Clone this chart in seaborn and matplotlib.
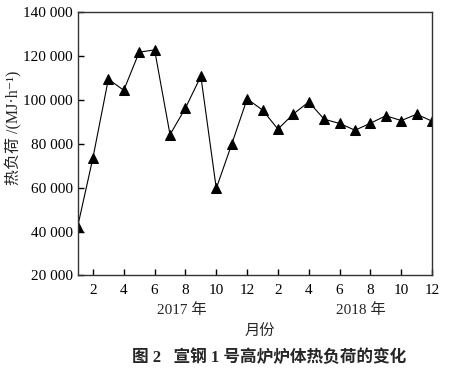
import numpy as np
import pandas as pd
import seaborn as sns
import matplotlib.pyplot as plt

# 2017.1 ~ 2018.12 炉体热负荷
months = list(range(1, 25))
heat_load = [42000, 73600, 109500, 104400, 121800, 122800, 84200, 96300, 110800,
             59700, 79800, 100500, 95400, 86700, 93600, 99100, 91200, 89300,
             86200, 89400, 92800, 90600, 93500, 90300]
tick_pos = list(range(2, 25, 2))
tick_labels = ['2', '4', '6', '8', '10', '12', '2', '4', '6', '8', '10', '12']
y_ticks = [20000, 40000, 60000, 80000, 100000, 120000, 140000]

df = pd.DataFrame({'month': months, 'load': heat_load})

sns.set_style('ticks')
plt.rcParams['font.family'] = ['Liberation Serif', 'Noto Sans CJK SC', 'DejaVu Sans']

fig = plt.figure(figsize=(4.52, 3.81), dpi=100)
ax = fig.add_axes([0.1715, 0.277, 0.7845, 0.691])
sns.lineplot(data=df, x='month', y='load', ax=ax, color='black', linewidth=0.8,
             marker='^', markersize=6.5, markeredgecolor='black', markerfacecolor='black')

ax.set_xlim(1, 24)
ax.set_ylim(20000, 140000)
ax.set_xticks(tick_pos)
ax.set_xticklabels(tick_labels)
ax.set_yticks(y_ticks)
ax.set_yticklabels(['{:,}'.format(v).replace(',', ' ') for v in y_ticks])
ax.tick_params(direction='in', length=4, width=1, labelsize=11, colors='black')
ax.tick_params(axis='x', pad=6)
for s in ax.spines.values():
    s.set_linewidth(1)
    s.set_color('#333333')

ax.set_xlabel('')
ax.set_ylabel('热负荷 /(MJ·h⁻¹)', fontsize=11.5)
ax.yaxis.set_label_coords(-0.155, 0.56)

fig.text(182 / 452, 1 - 310 / 381, '2017 年', ha='center', va='center', fontsize=11)
fig.text(361 / 452, 1 - 310 / 381, '2018 年', ha='center', va='center', fontsize=11)
fig.text(260 / 452, 1 - 332 / 381, '月份', ha='center', va='center', fontsize=11)
fig.text(269 / 452, 1 - 358 / 381, '图 2   宣钢 1 号高炉炉体热负荷的变化', ha='center', va='center',
         fontsize=12, fontweight='bold')

fig.savefig('out.png', dpi=100)
